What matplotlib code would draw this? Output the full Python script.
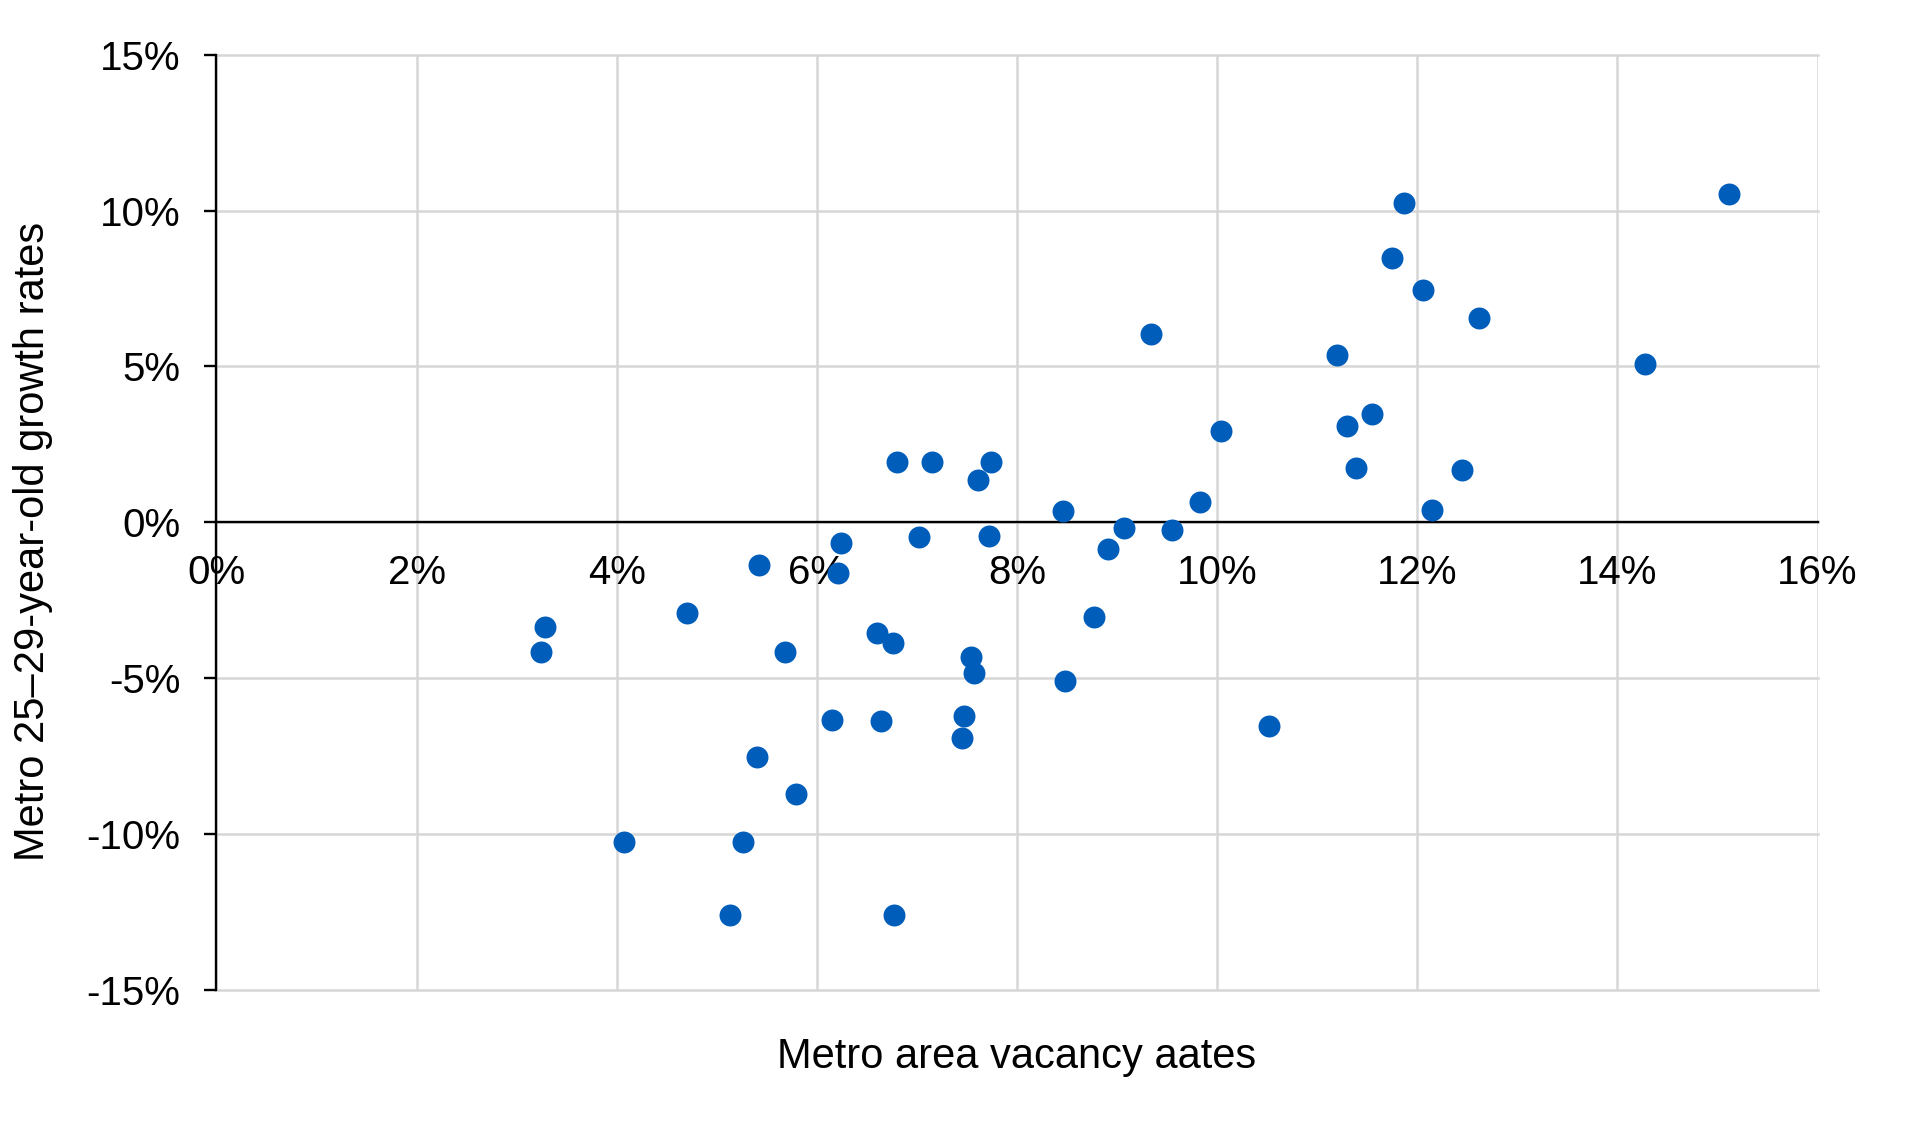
import matplotlib
matplotlib.use("Agg")
import matplotlib.pyplot as plt
from matplotlib.ticker import FuncFormatter
import numpy as np

plt.rcParams['font.family'] = ['Liberation Sans', 'DejaVu Sans']

# vacancy rate (%) and 25-29 growth rate (%) per metro
vacancy = [6.80, 7.15, 7.74, 7.61, 8.46, 7.02, 7.72, 6.24, 5.42, 6.21,
           4.70, 3.28, 3.24, 5.68, 6.60, 6.76, 7.54, 7.57, 8.48, 6.15,
           6.64, 7.47, 7.45, 5.40, 5.79, 4.07, 5.26, 5.13, 6.77, 10.52,
           8.77, 9.34, 11.20, 12.62, 14.28, 10.04, 11.30, 11.55, 11.39, 12.45,
           12.15, 9.83, 9.07, 9.55, 8.91, 11.87, 15.12, 11.75, 12.06]
growth = [1.94, 1.94, 1.94, 1.35, 0.35, -0.48, -0.44, -0.67, -1.38, -1.63,
          -2.92, -3.36, -4.17, -4.17, -3.55, -3.88, -4.32, -4.84, -5.09, -6.34,
          -6.37, -6.21, -6.92, -7.52, -8.71, -10.25, -10.25, -12.59, -12.59, -6.54,
          -3.04, 6.05, 5.37, 6.54, 5.09, 2.94, 3.09, 3.48, 1.73, 1.69,
          0.40, 0.66, -0.19, -0.25, -0.86, 10.24, 10.52, 8.47, 7.44]

x_ticks = np.arange(0, 17, 2)
y_ticks = np.arange(-15, 16, 5)

fig = plt.figure(figsize=(19.05, 11.22), dpi=100)
ax = fig.add_axes([0.1136, 0.1175, 0.8405, 0.8338])

ax.scatter(vacancy, growth, s=250, color='#005DBA', zorder=3, linewidths=0)

ax.set_xlim(0, 16)
ax.set_ylim(-15, 15)
ax.set_xticks(x_ticks)
ax.set_yticks(y_ticks)
pct = FuncFormatter(lambda v, p: f"{v:.0f}%")
ax.xaxis.set_major_formatter(pct)
ax.yaxis.set_major_formatter(pct)

grid_col = '#d6d6d6'
ax.grid(True, color=grid_col, linewidth=1.8, zorder=0)
ax.set_axisbelow(True)
for ln in ax.get_xgridlines() + ax.get_ygridlines():
    ln.set_clip_on(False)

ax.spines['top'].set_visible(False)
ax.spines['right'].set_visible(False)
ax.spines['bottom'].set_position(('data', 0))
ax.spines['bottom'].set_linewidth(1.7)
ax.spines['left'].set_linewidth(1.7)
ax.spines['bottom'].set_zorder(2)

ax.tick_params(axis='x', length=0, pad=23, labelsize=29)
ax.tick_params(axis='y', length=9, width=1.7, pad=17, labelsize=29)

ax.set_xlabel("Metro area vacancy aates", fontsize=30, labelpad=0)
ax.xaxis.set_label_coords(0.5, -0.05)
ax.set_ylabel("Metro 25\u201329-year-old growth rates", fontsize=30)
ax.yaxis.set_label_coords(-0.102, 0.48)

fig.savefig("out.png", dpi=100)
